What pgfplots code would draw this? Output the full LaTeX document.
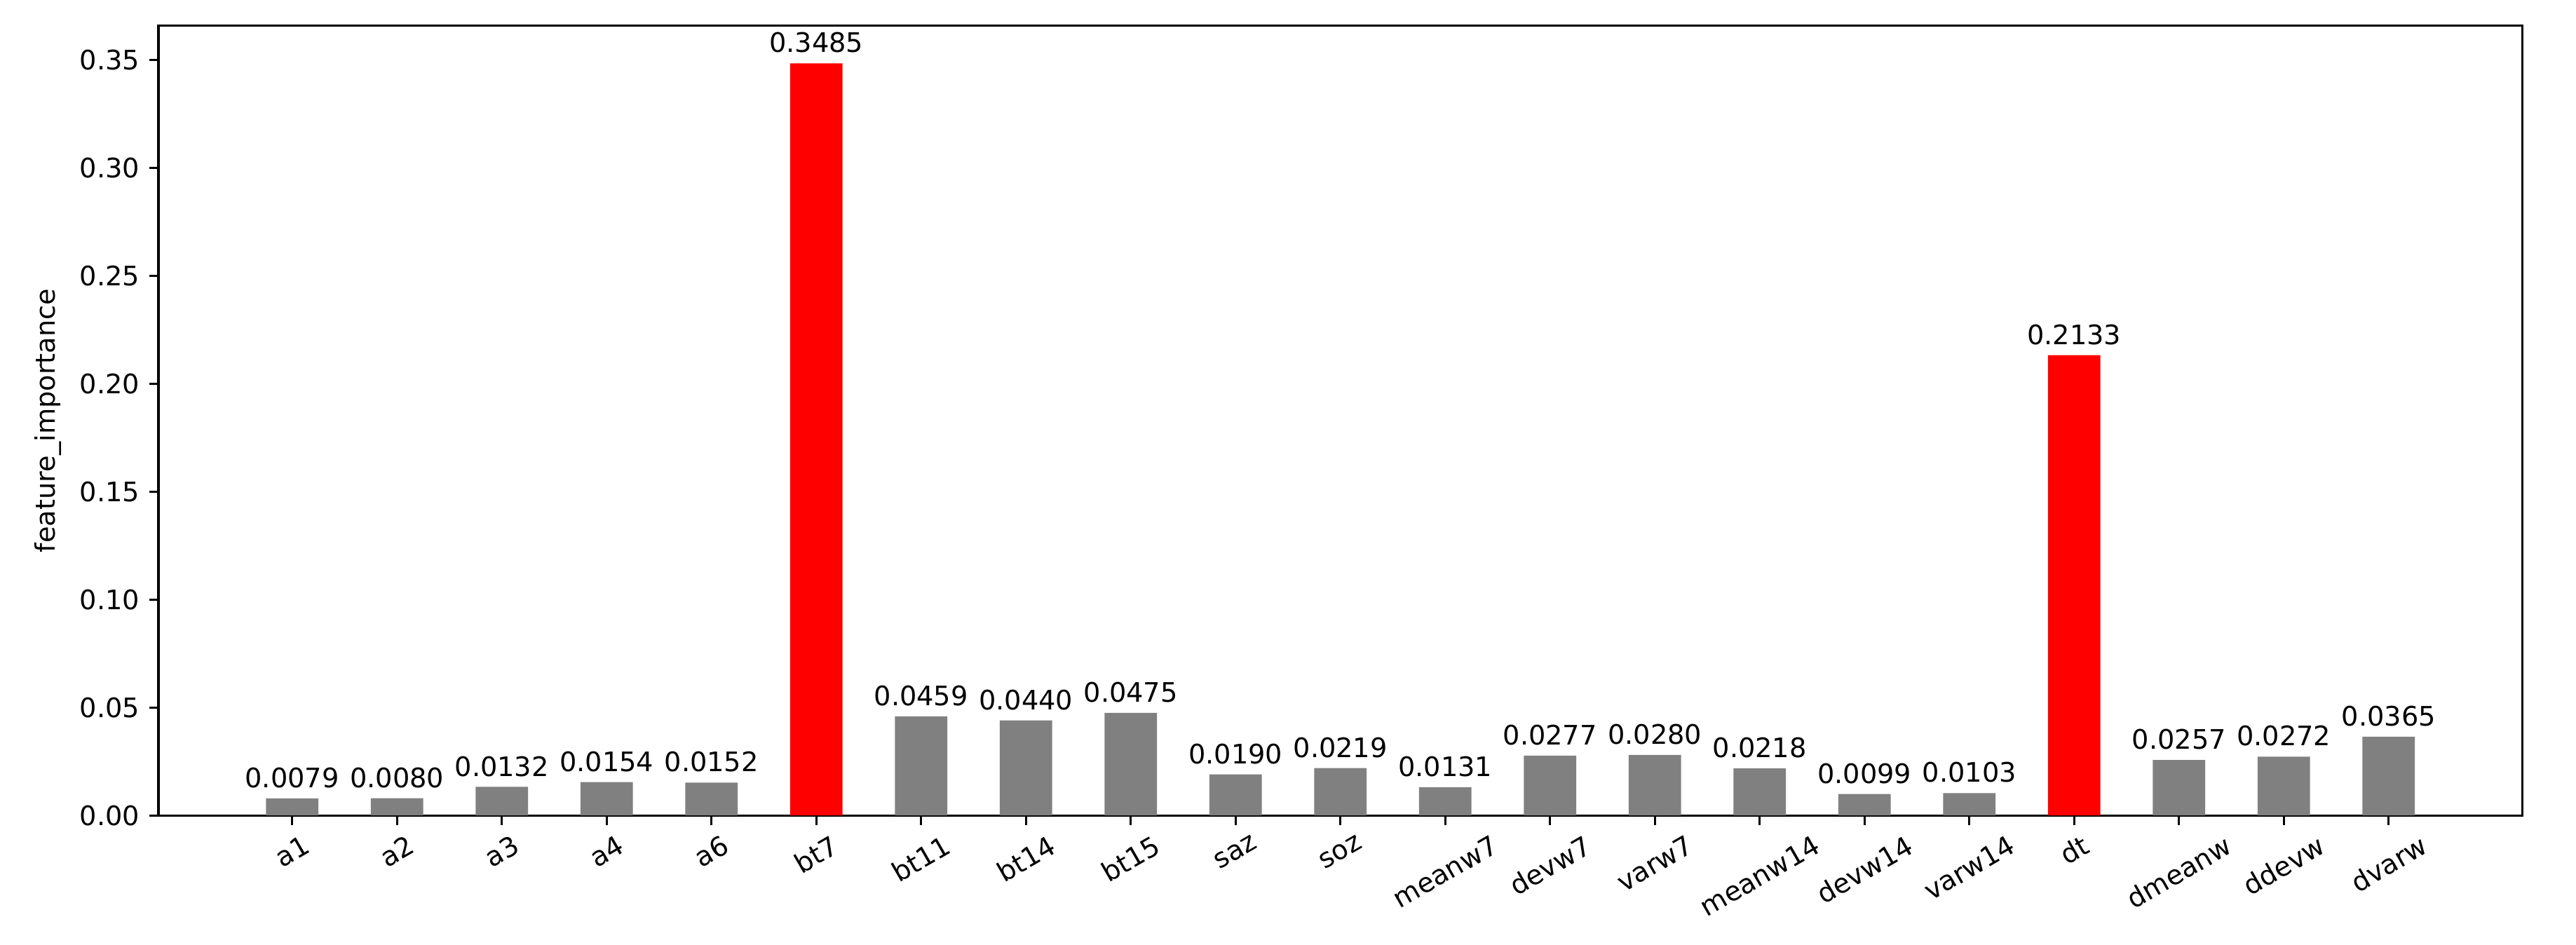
\documentclass[border=0pt]{standalone}
\usepackage{fontspec}
\setmainfont{DejaVu Sans}
\usepackage{graphicx}
\usepackage{pgfplots}
\pgfplotsset{compat=1.18}
\definecolor{bargray}{HTML}{808080}
\definecolor{barred}{HTML}{FF0000}
\newcommand\rl[1]{\rotatebox{30}{#1}}

\begin{document}
\begin{tikzpicture}
\begin{axis}[
  at={(0,0)}, anchor=south west,
  scale only axis,
  width=880pt, height=294pt,
  ybar, bar width=0.5, bar shift=0pt,
  xmin=-1.275, xmax=21.275,
  ymin=0, ymax=0.36593,
  xtick={0,...,20},
  xticklabels={\rl{a1},\rl{a2},\rl{a3},\rl{a4},\rl{a6},\rl{bt7},\rl{bt11},\rl{bt14},\rl{bt15},\rl{saz},\rl{soz},\rl{meanw7},\rl{devw7},\rl{varw7},\rl{meanw14},\rl{devw14},\rl{varw14},\rl{dt},\rl{dmeanw},\rl{ddevw},\rl{dvarw}},
  xticklabel style={anchor=north},
  ytick={0,0.05,...,0.351},
  scaled y ticks=false,
  yticklabel style={/pgf/number format/fixed, /pgf/number format/fixed zerofill, /pgf/number format/precision=2},
  /pgf/number format/assume math mode=true,
  tick align=outside, major tick length=3.5pt,
  xtick pos=lower, ytick pos=left,
  axis line style={line width=0.8pt, black},
  tick style={line width=0.8pt, black},
  ylabel={feature\_importance},
  nodes near coords={\pgfmathprintnumber[fixed,fixed zerofill,precision=4]{\pgfplotspointmeta}},
  nodes near coords style={anchor=south, inner sep=0pt, yshift=3.7pt, black, /pgf/number format/assume math mode=true},
]
\addplot[fill=bargray, draw=none] coordinates {
  (0,0.0079) (1,0.0080) (2,0.0132) (3,0.0154) (4,0.0152)
  (6,0.0459) (7,0.0440) (8,0.0475) (9,0.0190) (10,0.0219)
  (11,0.0131) (12,0.0277) (13,0.0280) (14,0.0218) (15,0.0099)
  (16,0.0103) (18,0.0257) (19,0.0272) (20,0.0365)
};
\addplot[fill=barred, draw=none] coordinates {
  (5,0.3485) (17,0.2133)
};
\end{axis}
\pgfresetboundingbox
\path[use as bounding box] (-59pt,-48pt) rectangle (900pt,303.6pt);
\end{tikzpicture}
\end{document}
